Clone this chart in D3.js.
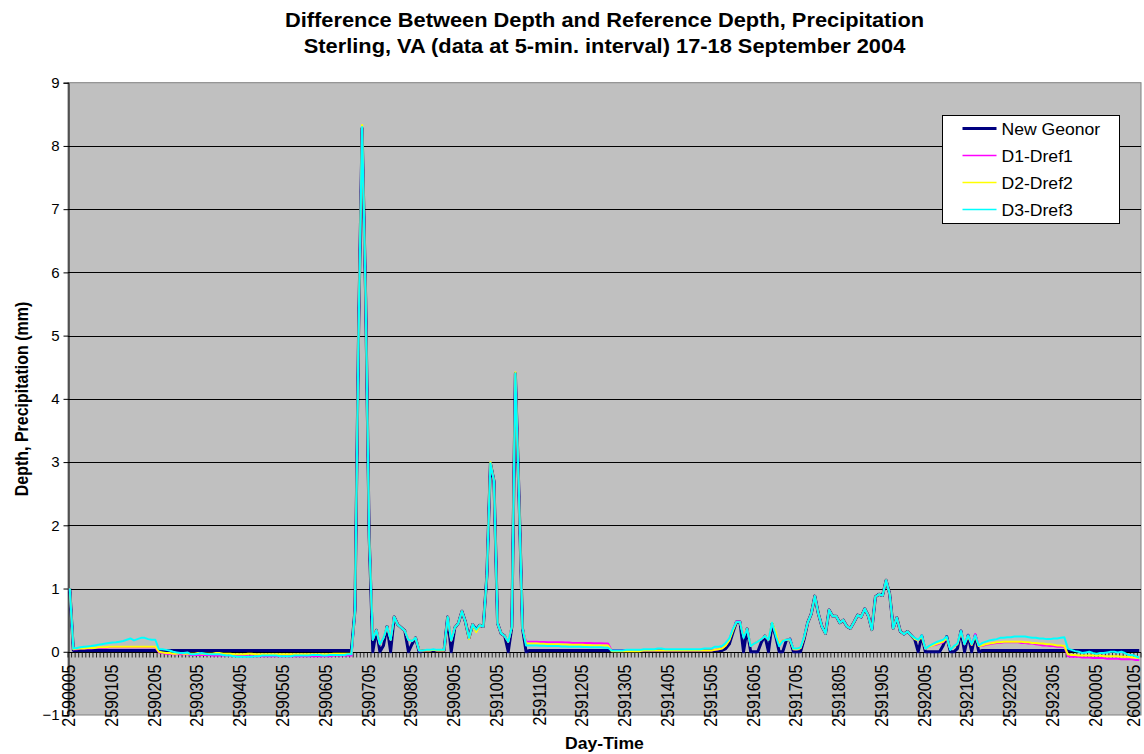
<!DOCTYPE html>
<html>
<head>
<meta charset="utf-8">
<script src="https://cdn.jsdelivr.net/npm/d3@7"></script>
<style>
  body { margin: 0; background: #fff; }
  svg text { font-family: "Liberation Sans", Arial, sans-serif; fill: #000; }
</style>
</head>
<body>
<div id="chart"></div>
<script>
const TITLE_LINES = [
  "Difference Between Depth and Reference Depth, Precipitation",
  "Sterling, VA (data at 5-min. interval) 17-18 September 2004"
];
const X_TITLE = "Day-Time";
const Y_TITLE = "Depth, Precipitation (mm)";

const TICK_LABELS = [
  "2590005","2590105","2590205","2590305","2590405","2590505","2590605","2590705",
  "2590805","2590905","2591005","2591105","2591205","2591305","2591405","2591505",
  "2591605","2591705","2591805","2591905","2592005","2592105","2592205","2592305",
  "2600005","2600105"
];
const Y_TICKS = [-1, 0, 1, 2, 3, 4, 5, 6, 7, 8, 9];

// one row per hour (12 readings at 5-min interval)
const NEW_GEONOR = [
  1.0, 0.02, 0.02, 0.02, 0.02, 0.02, 0.02, 0.02, 0.02, 0.02, 0.02, 0.02,
  0.02, 0.02, 0.02, 0.02, 0.02, 0.02, 0.02, 0.02, 0.02, 0.02, 0.02, 0.02,
  0.02, 0.02, 0.02, 0.02, 0.02, 0.02, 0.02, 0.02, 0.02, 0.02, 0.02, 0.02,
  0.02, 0.02, 0.02, 0.02, 0.02, 0.02, 0.02, 0.02, 0.02, 0.02, 0.02, 0.02,
  0.02, 0.02, 0.02, 0.02, 0.02, 0.02, 0.02, 0.02, 0.02, 0.02, 0.02, 0.02,
  0.02, 0.02, 0.02, 0.02, 0.02, 0.02, 0.02, 0.02, 0.02, 0.02, 0.02, 0.02,
  0.02, 0.02, 0.02, 0.02, 0.02, 0.02, 0.02, 0.02, 0.66, 5.0, 8.28, 5.6,
  1.8, 0, 0.34, 0, 0.1, 0.4, 0, 0.55, 0.43, 0.38, 0.33, 0,
  0.12, 0.22, 0, 0.02, 0.02, 0.02, 0.02, 0.02, 0.02, 0.02, 0.55, 0,
  0.38, 0.45, 0.64, 0.47, 0.22, 0.43, 0.35, 0.42, 0.40, 1.2, 2.98, 2.7,
  0.45, 0.29, 0.25, 0, 0.39, 4.4, 2.5, 0.37, 0, 0.02, 0.02, 0.02,
  0.02, 0.02, 0.02, 0.02, 0.02, 0.02, 0.02, 0.02, 0.02, 0.02, 0.02, 0.02,
  0.02, 0.02, 0.02, 0.02, 0.02, 0.02, 0.02, 0.02, 0.02, 0.02, 0.02, 0.02,
  0.02, 0.02, 0.02, 0.02, 0.02, 0.02, 0.02, 0.02, 0.02, 0.02, 0.02, 0.02,
  0.02, 0.02, 0.02, 0.02, 0.02, 0.02, 0.02, 0.02, 0.02, 0.02, 0.02, 0.02,
  0.02, 0.02, 0.02, 0.02, 0.05, 0.12, 0.3, 0.47, 0.47, 0, 0.36, 0,
  0, 0, 0.15, 0.25, 0, 0.44, 0.25, 0, 0, 0.18, 0.2, 0,
  0, 0, 0.2, 0.46, 0.6, 0.88, 0.6, 0.4, 0.29, 0.66, 0.56, 0.56,
  0.46, 0.5, 0.4, 0.37, 0.47, 0.58, 0.55, 0.68, 0.57, 0.35, 0.87, 0.91,
  0.89, 1.13, 0.91, 0.37, 0.54, 0.32, 0.28, 0.32, 0.26, 0.2, 0, 0.25,
  0, 0, 0, 0, 0, 0.1, 0.24, 0, 0, 0.05, 0.33, 0,
  0.26, 0, 0.26, 0, 0.02, 0.02, 0.02, 0.02, 0.02, 0.02, 0.02, 0.02,
  0.02, 0.02, 0.02, 0.02, 0.02, 0.02, 0.02, 0.02, 0.02, 0.02, 0.02, 0.02,
  0.02, 0.02, 0.02, 0.02, 0.02, 0.02, 0.02, 0.02, 0.02, 0.02, 0.02, 0.02,
  0.02, 0.02, 0.02, 0.02, 0.02, 0.02, 0.02, 0.02, 0.02, 0.02, 0.02, 0.02,
  0.02
];

const D1_DREF1 = [
  1.0, 0.04, 0.04, 0.05, 0.05, 0.05, 0.05, 0.06, 0.06, 0.06, 0.06, 0.07,
  0.07, 0.07, 0.07, 0.07, 0.07, 0.07, 0.07, 0.07, 0.07, 0.07, 0.07, 0.07,
  0.07, -0.01, -0.02, -0.03, -0.03, -0.04, -0.04, -0.04, -0.04, -0.04, -0.05, -0.05,
  -0.05, -0.05, -0.05, -0.05, -0.06, -0.06, -0.06, -0.06, -0.06, -0.06, -0.06, -0.06,
  -0.06, -0.06, -0.07, -0.07, -0.07, -0.07, -0.07, -0.07, -0.07, -0.07, -0.07, -0.07,
  -0.07, -0.07, -0.07, -0.07, -0.07, -0.07, -0.07, -0.07, -0.07, -0.07, -0.07, -0.07,
  -0.07, -0.07, -0.06, -0.06, -0.06, -0.06, -0.06, -0.06, 0.66, 5.0, 8.3, 5.6,
  1.8, 0.19, 0.34, 0.12, 0.22, 0.4, 0.19, 0.55, 0.43, 0.38, 0.33, 0.19,
  0.17, 0.22, 0.02, 0.02, 0.02, 0.02, 0.03, 0.02, 0.02, 0.02, 0.55, 0.18,
  0.38, 0.45, 0.64, 0.47, 0.21, 0.43, 0.33, 0.42, 0.40, 1.2, 2.98, 2.7,
  0.45, 0.29, 0.25, 0.16, 0.39, 4.4, 2.5, 0.37, 0.16, 0.16, 0.16, 0.16,
  0.155, 0.155, 0.15, 0.15, 0.15, 0.15, 0.15, 0.145, 0.145, 0.14, 0.14, 0.14,
  0.14, 0.14, 0.14, 0.135, 0.135, 0.135, 0.13, 0.13, 0.02, 0.02, 0.02, 0.02,
  0.02, 0.02, 0.02, 0.02, 0.02, 0.02, 0.02, 0.02, 0.02, 0.02, 0.02, 0.02,
  0.02, 0.02, 0.02, 0.02, 0.02, 0.02, 0.02, 0.02, 0.02, 0.02, 0.02, 0.02,
  0.02, 0.03, 0.04, 0.06, 0.1, 0.19, 0.35, 0.48, 0.48, 0.24, 0.36, 0.09,
  0.13, 0.16, 0.2, 0.25, 0.19, 0.45, 0.3, 0.11, 0.18, 0.19, 0.2, 0.04,
  0.04, 0.06, 0.22, 0.46, 0.6, 0.88, 0.6, 0.4, 0.29, 0.66, 0.56, 0.56,
  0.46, 0.5, 0.4, 0.37, 0.47, 0.58, 0.55, 0.68, 0.57, 0.35, 0.87, 0.91,
  0.89, 1.13, 0.91, 0.37, 0.54, 0.32, 0.28, 0.32, 0.26, 0.21, 0.18, 0.25,
  0.05, 0.08, 0.1, 0.11, 0.13, 0.15, 0.22, 0.04, 0.08, 0.12, 0.32, 0.12,
  0.26, 0.11, 0.28, 0.09, 0.09, 0.11, 0.12, 0.13, 0.14, 0.14, 0.15, 0.15,
  0.15, 0.15, 0.15, 0.14, 0.14, 0.13, 0.13, 0.12, 0.11, 0.1, 0.1, 0.09,
  0.09, 0.08, 0.08, 0.08, -0.07, -0.08, -0.08, -0.08, -0.09, -0.09, -0.09, -0.1,
  -0.1, -0.1, -0.1, -0.11, -0.11, -0.11, -0.11, -0.12, -0.12, -0.12, -0.12, -0.13,
  -0.13
];

const D2_DREF2 = [
  1.0, 0.04, 0.05, 0.05, 0.05, 0.06, 0.06, 0.06, 0.07, 0.07, 0.07, 0.08,
  0.08, 0.08, 0.08, 0.08, 0.08, 0.08, 0.08, 0.08, 0.08, 0.08, 0.08, 0.08,
  0.08, 0.0, -0.01, -0.02, -0.02, -0.03, -0.03, -0.02, -0.03, -0.03, -0.03, -0.03,
  -0.02, -0.03, -0.03, -0.03, -0.03, -0.02, -0.02, -0.03, -0.03, -0.03, -0.04, -0.04,
  -0.04, -0.04, -0.03, -0.03, -0.04, -0.04, -0.04, -0.04, -0.04, -0.04, -0.04, -0.04,
  -0.04, -0.04, -0.04, -0.04, -0.04, -0.04, -0.04, -0.04, -0.04, -0.04, -0.04, -0.04,
  -0.04, -0.04, -0.03, -0.03, -0.03, -0.03, -0.03, -0.03, 0.66, 5.0, 8.33, 5.6,
  1.8, 0.19, 0.34, 0.12, 0.22, 0.4, 0.19, 0.55, 0.43, 0.38, 0.33, 0.19,
  0.17, 0.22, 0.02, 0.02, 0.02, 0.02, 0.03, 0.02, 0.02, 0.02, 0.55, 0.18,
  0.38, 0.45, 0.64, 0.47, 0.2, 0.43, 0.31, 0.42, 0.40, 1.2, 3.0, 2.7,
  0.45, 0.29, 0.25, 0.16, 0.39, 4.42, 2.5, 0.37, 0.13, 0.13, 0.13, 0.13,
  0.125, 0.125, 0.12, 0.12, 0.12, 0.12, 0.115, 0.115, 0.11, 0.11, 0.11, 0.11,
  0.11, 0.105, 0.105, 0.1, 0.1, 0.1, 0.1, 0.1, 0.01, 0.01, 0.01, 0.01,
  0.01, 0.01, 0.01, 0.01, 0.01, 0.02, 0.02, 0.02, 0.02, 0.02, 0.02, 0.02,
  0.02, 0.02, 0.02, 0.02, 0.02, 0.02, 0.02, 0.02, 0.02, 0.02, 0.02, 0.02,
  0.02, 0.03, 0.04, 0.05, 0.1, 0.18, 0.33, 0.47, 0.47, 0.24, 0.36, 0.09,
  0.13, 0.16, 0.2, 0.25, 0.19, 0.46, 0.32, 0.12, 0.18, 0.19, 0.19, 0.04,
  0.04, 0.06, 0.22, 0.46, 0.6, 0.88, 0.6, 0.4, 0.29, 0.66, 0.56, 0.56,
  0.46, 0.5, 0.4, 0.37, 0.47, 0.58, 0.55, 0.68, 0.57, 0.35, 0.87, 0.91,
  0.89, 1.13, 0.91, 0.37, 0.54, 0.32, 0.28, 0.32, 0.26, 0.2, 0.18, 0.24,
  0.05, 0.08, 0.1, 0.12, 0.14, 0.16, 0.22, 0.04, 0.08, 0.12, 0.32, 0.12,
  0.25, 0.11, 0.25, 0.09, 0.1, 0.12, 0.13, 0.14, 0.15, 0.15, 0.16, 0.16,
  0.16, 0.16, 0.16, 0.16, 0.15, 0.15, 0.14, 0.14, 0.13, 0.13, 0.12, 0.12,
  0.11, 0.1, 0.1, 0.09, -0.04, -0.05, -0.05, -0.06, -0.06, -0.06, -0.06, -0.06,
  -0.06, -0.06, -0.07, -0.07, -0.07, -0.07, -0.07, -0.08, -0.08, -0.08, -0.09, -0.09,
  -0.1
];

const D3_DREF3 = [
  1.0, 0.05, 0.06, 0.07, 0.08, 0.085, 0.09, 0.1, 0.11, 0.12, 0.13, 0.14,
  0.145, 0.15, 0.16, 0.17, 0.19, 0.21, 0.18, 0.2, 0.22, 0.22, 0.2, 0.19,
  0.19, 0.04, 0.04, 0.03, 0.02, 0, -0.01, -0.02, -0.02, -0.01, -0.04, -0.04,
  -0.03, -0.02, -0.03, -0.04, -0.04, -0.04, -0.04, -0.05, -0.06, -0.06, -0.07, -0.08,
  -0.08, -0.08, -0.08, -0.08, -0.07, -0.07, -0.06, -0.06, -0.06, -0.06, -0.06, -0.07,
  -0.07, -0.07, -0.07, -0.06, -0.06, -0.06, -0.06, -0.06, -0.05, -0.05, -0.05, -0.06,
  -0.06, -0.05, -0.05, -0.05, -0.05, -0.05, -0.04, -0.04, 0.66, 5.0, 8.3, 5.6,
  1.8, 0.19, 0.34, 0.12, 0.22, 0.4, 0.19, 0.55, 0.43, 0.38, 0.33, 0.19,
  0.17, 0.22, 0.02, 0.02, 0.03, 0.03, 0.04, 0.03, 0.03, 0.03, 0.55, 0.18,
  0.38, 0.45, 0.64, 0.47, 0.22, 0.43, 0.35, 0.42, 0.40, 1.2, 2.98, 2.7,
  0.45, 0.29, 0.25, 0.16, 0.39, 4.4, 2.5, 0.37, 0.1, 0.1, 0.1, 0.1,
  0.095, 0.095, 0.09, 0.09, 0.09, 0.09, 0.085, 0.085, 0.08, 0.08, 0.08, 0.08,
  0.075, 0.075, 0.07, 0.07, 0.07, 0.07, 0.065, 0.065, 0.02, 0.02, 0.02, 0.02,
  0.03, 0.03, 0.03, 0.03, 0.03, 0.04, 0.04, 0.04, 0.04, 0.05, 0.05, 0.04,
  0.04, 0.04, 0.04, 0.04, 0.04, 0.04, 0.04, 0.04, 0.04, 0.04, 0.05, 0.05,
  0.05, 0.08, 0.08, 0.09, 0.14, 0.21, 0.36, 0.47, 0.47, 0.22, 0.36, 0.09,
  0.13, 0.16, 0.2, 0.25, 0.19, 0.46, 0.26, 0.09, 0.17, 0.19, 0.2, 0.05,
  0.05, 0.07, 0.24, 0.46, 0.6, 0.88, 0.6, 0.4, 0.29, 0.66, 0.56, 0.56,
  0.46, 0.5, 0.4, 0.37, 0.47, 0.58, 0.55, 0.68, 0.57, 0.35, 0.87, 0.91,
  0.89, 1.13, 0.91, 0.37, 0.54, 0.32, 0.28, 0.32, 0.26, 0.22, 0.19, 0.26,
  0.05, 0.09, 0.12, 0.15, 0.17, 0.19, 0.24, 0.03, 0.09, 0.13, 0.33, 0.12,
  0.26, 0.12, 0.26, 0.1, 0.14, 0.16, 0.18, 0.19, 0.2, 0.22, 0.22, 0.23,
  0.23, 0.24, 0.24, 0.24, 0.24, 0.23, 0.22, 0.22, 0.21, 0.21, 0.2, 0.2,
  0.21, 0.21, 0.22, 0.23, 0.05, 0.03, 0.01, 0, -0.02, -0.01, 0, -0.02,
  -0.03, -0.02, -0.02, -0.01, 0, 0, -0.01, 0, -0.02, -0.05, -0.05, -0.07,
  -0.09
];

const SERIES = [
  { name: "New Geonor", values: NEW_GEONOR, color: "#000080", width: 3 },
  { name: "D1-Dref1",   values: D1_DREF1,   color: "#FF00FF", width: 2 },
  { name: "D2-Dref2",   values: D2_DREF2,   color: "#FFFF00", width: 2 },
  { name: "D3-Dref3",   values: D3_DREF3,   color: "#00FFFF", width: 2 },
];

const W = 1144, H = 754;
const plot = { left: 68, right: 1141, top: 82.7, bottom: 715 };
const FONT_SX = 1.1; // text in the source is a little stretched sideways

const svg = d3.select("#chart").append("svg")
  .attr("width", W).attr("height", H);

const n = NEW_GEONOR.length;
const x = d3.scaleBand().domain(d3.range(n)).range([plot.left, plot.right]).padding(0);
const y = d3.scaleLinear().domain([-1, 9]).range([plot.bottom, plot.top]);
const cx = (i) => x(i) + x.bandwidth() / 2;

// plot area
svg.append("rect")
  .attr("x", plot.left).attr("y", plot.top)
  .attr("width", plot.right - plot.left).attr("height", plot.bottom - plot.top)
  .attr("fill", "#C0C0C0").attr("stroke", "#808080").attr("stroke-width", 1);

// gridlines
svg.append("g").selectAll("line")
  .data(Y_TICKS.filter((v) => v > -1 && v < 9 && v !== 0))
  .join("line")
  .attr("x1", plot.left).attr("x2", plot.right)
  .attr("y1", (d) => Math.round(y(d)) + 0.5).attr("y2", (d) => Math.round(y(d)) + 0.5)
  .attr("stroke", "#000").attr("stroke-width", 1);

// y axis
const yAxis = svg.append("g")
  .attr("transform", `translate(${plot.left + 0.5},0)`)
  .call(d3.axisLeft(y).tickValues(Y_TICKS).tickSize(5).tickPadding(4).tickFormat(d3.format("d")));
yAxis.select(".domain").attr("stroke", "#000");
yAxis.selectAll(".tick line").attr("stroke", "#000");
yAxis.selectAll(".tick text")
  .attr("font-size", "15px")
  .attr("fill", "#000")
  .style("font-family", '"Liberation Sans", Arial, sans-serif');

// x axis at zero, tick marks between categories
const y0 = Math.round(y(0)) + 0.5;
svg.append("g").selectAll("line")
  .data(d3.range(n + 1))
  .join("line")
  .attr("x1", (i) => plot.left + i * x.step()).attr("x2", (i) => plot.left + i * x.step())
  .attr("y1", y0).attr("y2", y0 + 5)
  .attr("stroke", "#000").attr("stroke-width", 0.8);
svg.append("line")
  .attr("x1", plot.left).attr("x2", plot.right)
  .attr("y1", y0).attr("y2", y0)
  .attr("stroke", "#000").attr("stroke-width", 1);

// x tick labels, rotated (kept inside the right edge)
svg.append("g").selectAll("text")
  .data(TICK_LABELS)
  .join("text")
  .attr("transform", (d, k) => `translate(${Math.min(cx(k * 12), W - 9)},${y0 + 12}) rotate(-90) scale(1,${FONT_SX})`)
  .attr("text-anchor", "end")
  .attr("dy", "0.3em")
  .attr("font-size", "16px")
  .text((d) => d);

// series
const line = d3.line().x((d, i) => cx(i)).y((d) => y(d));
svg.append("g").selectAll("path")
  .data(SERIES)
  .join("path")
  .attr("d", (s) => line(s.values))
  .attr("fill", "none")
  .attr("stroke", (s) => s.color)
  .attr("stroke-width", (s) => s.width)
  .attr("stroke-linejoin", "round");

// titles
svg.append("g").selectAll("text")
  .data(TITLE_LINES)
  .join("text")
  .attr("transform", (d, k) => `translate(604.5,${27 + k * 26}) scale(1.12,1)`)
  .attr("text-anchor", "middle")
  .attr("font-size", "19.5px").attr("font-weight", "bold")
  .text((d) => d);

svg.append("text")
  .attr("transform", `translate(604.5,749) scale(${FONT_SX},1)`)
  .attr("text-anchor", "middle")
  .attr("font-size", "16px").attr("font-weight", "bold")
  .text(X_TITLE);

svg.append("text")
  .attr("transform", `translate(28,399) rotate(-90) scale(1,${FONT_SX})`)
  .attr("text-anchor", "middle")
  .attr("font-size", "16px").attr("font-weight", "bold")
  .text(Y_TITLE);

// legend
const lg = svg.append("g").attr("transform", "translate(942.5,115.5)");
lg.append("rect").attr("width", 177).attr("height", 108)
  .attr("fill", "#fff").attr("stroke", "#000").attr("stroke-width", 1);
const items = lg.selectAll("g.item").data(SERIES).join("g")
  .attr("class", "item")
  .attr("transform", (d, k) => `translate(0,${13 + k * 27})`);
items.append("line")
  .attr("x1", 20).attr("x2", 54).attr("y1", 0).attr("y2", 0)
  .attr("stroke", (d) => d.color)
  .attr("stroke-width", (d) => d.width === 3 ? 3 : 1.6);
items.append("text")
  .attr("transform", `translate(59,6) scale(${FONT_SX},1)`)
  .attr("font-size", "16px")
  .text((d) => d.name);
</script>
</body>
</html>
